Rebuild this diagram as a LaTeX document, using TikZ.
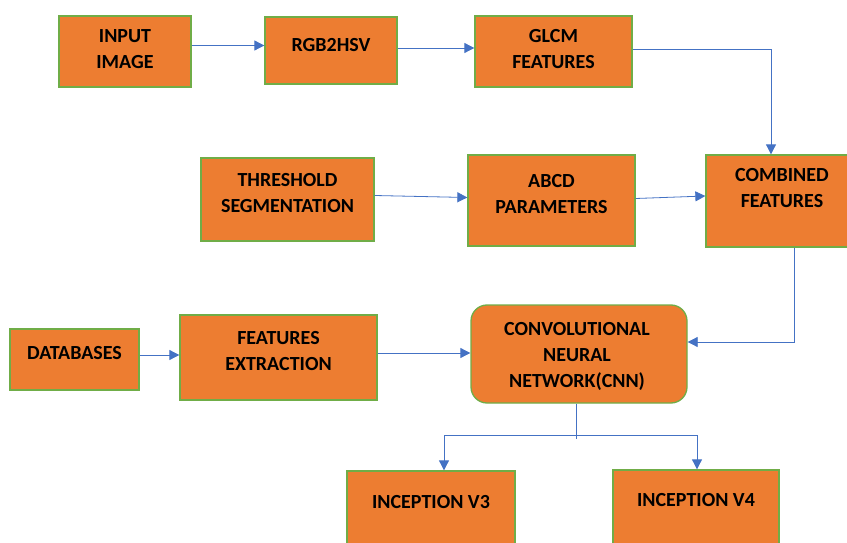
\documentclass[tikz,border=0pt]{standalone}
\usepackage{fontspec}
\setmainfont{Carlito}
\usepackage{xcolor}
\usepackage{tikz}
\usetikzlibrary{calc,positioning,arrows.meta}

\definecolor{boxorange}{HTML}{ED7D31}
\definecolor{boxgreen}{HTML}{70AD47}
\definecolor{lineblue}{HTML}{4472C4}

\begin{document}
\begin{tikzpicture}[x=1pt,y=-1pt]
  \tikzset{ box/.style={draw=boxgreen,fill=boxorange,line width=1.3pt,inner sep=0pt},
    lbl/.style={font=\bfseries\fontsize{20}{26}\selectfont,align=center,inner sep=0pt},
    arr/.style={draw=lineblue,line width=0.8pt,-{Triangle[length=10pt,width=10pt]}},
    wire/.style={draw=lineblue,line width=0.8pt},
  }
  \useasboundingbox (0,0) rectangle (847,543);

  \node[box,minimum width=132pt,minimum height=71pt] (in) at (125,51.5) {};
  \node[box,minimum width=132pt,minimum height=67pt] (rgb) at (331,50.5) {};
  \node[box,minimum width=157pt,minimum height=71pt] (glcm) at (553.5,51.5) {};
  \node[box,minimum width=173pt,minimum height=83pt] (thr) at (287.5,199.5) {};
  \node[box,minimum width=167pt,minimum height=91pt] (abcd) at (551.5,200.5) {};
  \node[box,minimum width=150pt,minimum height=92pt] (comb) at (781,201) {};
  \node[box,minimum width=129pt,minimum height=61pt] (db) at (74.5,359.5) {};
  \node[box,minimum width=197pt,minimum height=85pt] (fe) at (278.5,357.5) {};
  \node[box,rounded corners=16pt,minimum width=216pt,minimum height=98pt] (cnn) at (579,354) {};
  \node[box,minimum width=168pt,minimum height=90pt] (v3) at (431,516) {};
  \node[box,minimum width=166pt,minimum height=90pt] (v4) at (696,515) {};

  % the texts in the boxes
  \node[lbl] (in-t) at ([yshift=-34pt]in.north) {INPUT\\IMAGE};
  \node[lbl] (rgb-t) at ([yshift=-29pt]rgb.north) {RGB2HSV};
  \node[lbl] (glcm-t) at ([yshift=-34pt]glcm.north) {GLCM\\FEATURES};
  \node[lbl] (thr-t) at ([yshift=-36pt]thr.north) {THRESHOLD\\SEGMENTATION};
  \node[lbl] (abcd-t) at ([yshift=-40pt]abcd.north) {ABCD\\PARAMETERS};
  \node[lbl] (comb-t) at ([xshift=1pt,yshift=-34pt]comb.north) {COMBINED\\FEATURES};
  \node[lbl] (db-t) at ([yshift=-25pt]db.north) {DATABASES};
  \node[lbl] (fe-t) at ([yshift=-37pt]fe.north) {FEATURES\\EXTRACTION};
  \node[lbl] (cnn-t) at ([xshift=-2pt,yshift=-52pt]cnn.north) {CONVOLUTIONAL\\NEURAL\\NETWORK(CNN)};
  \node[lbl] (v3-t) at ([yshift=-32pt]v3.north) {INCEPTION V3};
  \node[lbl] (v4-t) at ([yshift=-31pt]v4.north) {INCEPTION V4};

  % the connection between the boxes
  \draw[arr] ([yshift=6pt]in.east) -- ([yshift=5pt]rgb.west);
  \draw[arr] ([yshift=2.5pt]rgb.east) -- ([yshift=3.5pt]glcm.west);
  \draw[arr] ([yshift=2pt]glcm.east) -| ([xshift=-10pt]comb.north);
  \draw[arr] ([yshift=4pt]thr.east) -- ([yshift=3pt]abcd.west);
  \draw[arr] ([yshift=2pt]abcd.east) -- ([yshift=5pt]comb.west);
  \draw[arr] ([xshift=13pt]comb.south) |- ([yshift=12pt]cnn.east);
  \draw[arr] ([yshift=4.5pt]db.east) -- ([yshift=2.5pt]fe.west);
  \draw[arr] ([yshift=4.5pt]fe.east) -- ([yshift=1pt]cnn.west);

  \coordinate (split) at ([xshift=-3pt,yshift=-32pt]cnn.south);
  \draw[wire] ([xshift=-3pt]cnn.south) -- ([yshift=-3pt]split);
  \draw[arr] (split) -| ([xshift=13pt]v3.north);
  \draw[arr] (split) -| ([xshift=1pt]v4.north);
\end{tikzpicture}
\end{document}
